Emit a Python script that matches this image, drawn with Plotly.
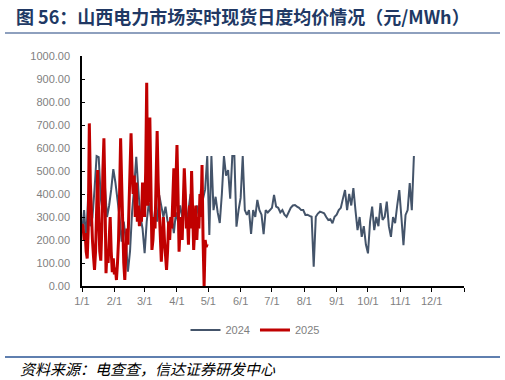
import pandas as pd
import plotly.graph_objects as go

# 2024 daily average price (every 2 days from 2024-01-01), 元/MWh
values_2024 = [
    230, 330, 200, 400, 260, 300, 420, 565, 560, 380, 320, 430, 300, 350, 420, 508,
    450, 374, 300, 193, 280, 200, 62, 150, 323, 430, 562, 417, 300, 250,
    143, 280, 361, 300, 250, 330, 280, 395, 350, 300, 345, 280, 250, 300, 230, 320,
    280, 350, 300, 380, 260, 330, 400, 300, 270, 350, 300, 420, 380, 420,
    565, 222, 565, 330, 388, 320, 274, 400, 565, 480, 504, 380, 565, 565, 258, 330,
    383, 565, 330, 309, 330, 226, 330, 300, 374, 330, 310, 225, 330, 320, 330,
    340, 396, 345, 340, 320, 330, 310, 301, 320, 340, 350, 352, 345, 340, 330,
    330, 309, 310, 305, 301, 84, 301, 315, 323, 320, 316, 300, 287, 290, 273,
    301, 310, 330, 340, 380, 417, 330, 400, 350, 426, 330, 243, 300, 214, 260,
    180, 142, 280, 345, 243, 300, 260, 360, 287, 300, 367, 260, 214, 300, 273,
    350, 417, 300, 178, 309, 330, 447, 330, 565,
]

# 2025 daily average price (daily from 2025-01-01 to 2025-04-30), 元/MWh
values_2025 = [
    270, 260, 200, 230, 150, 120, 250, 707, 450, 300,
    200, 130, 70, 150, 350, 504, 300, 150, 110, 250,
    500, 642, 400, 56, 150, 100, 200, 300, 150, 60,
    120, 50, 80, 26, 100, 200, 400, 642, 450, 250,
    100, 26, 150, 250, 180, 350, 450, 664, 491, 400,
    480, 300, 450, 280, 350, 260, 300, 280, 450, 300,
    500, 884, 350, 400, 732, 400, 157, 200, 300, 250,
    450, 674, 450, 300, 200, 106, 200, 300, 200, 150,
    70, 150, 280, 200, 300, 250, 400, 512, 300, 450,
    613, 400, 149, 250, 300, 200, 350, 512, 400, 250,
    300, 180, 350, 250, 500, 300, 157, 250, 350, 200,
    300, 250, 400, 300, 526, 200, 0, 200, 170, 183,
]

series_names = ["2024", "2025"]
series_colors = ["#44546A", "#C00000"]

dates_2024 = pd.date_range("2024-01-01", periods=len(values_2024), freq="2D")
dates_2025 = pd.date_range("2025-01-01", periods=len(values_2025), freq="D")
# plot both years on a common month/day axis
dates_2025_on_axis = [d.replace(year=2024) for d in dates_2025]

month_ticks = pd.date_range("2024-01-01", periods=12, freq="MS")
month_labels = [f"{d.month}/1" for d in month_ticks]
y_ticks = [0, 100, 200, 300, 400, 500, 600, 700, 800, 900, 1000]

fig = go.Figure()
fig.add_trace(go.Scatter(x=dates_2024, y=values_2024, mode="lines", name=series_names[0],
                         line=dict(color=series_colors[0], width=2)))
fig.add_trace(go.Scatter(x=dates_2025_on_axis, y=values_2025, mode="lines", name=series_names[1],
                         line=dict(color=series_colors[1], width=3)))

L, R, T, B = 82, 41, 56, 94
W, H = 505, 380
pw, ph = W - L - R, H - T - B

def px(x):
    return (x - L) / pw

def py(y):
    return (H - B - y) / ph

tick_font = dict(family="Liberation Sans, Arial, sans-serif", size=11, color="#7F7F7F")

fig.update_layout(
    width=W, height=H,
    margin=dict(l=L, r=R, t=T, b=B, pad=0),
    paper_bgcolor="white", plot_bgcolor="white",
    showlegend=True,
    legend=dict(orientation="h", x=px(255), xanchor="center", y=py(330), yanchor="middle",
                font=tick_font, bgcolor="rgba(0,0,0,0)", itemwidth=30, tracegroupgap=0),
    xaxis=dict(type="date", range=["2024-01-01", "2025-01-01"],
               tickvals=list(month_ticks), ticktext=month_labels,
               showgrid=False, zeroline=False,
               showline=True, linecolor="#000000", linewidth=1.5,
               ticks="outside", ticklen=4, tickcolor="#000000", tickwidth=1,
               tickfont=tick_font,
               minor=dict(ticks="outside", ticklen=4, tickcolor="#000000", dtick="M12",
                          tick0="2024-01-01", showgrid=False)),
    yaxis=dict(range=[0, 1000], tickvals=y_ticks, tickformat=".2f",
               showgrid=False, zeroline=False,
               showline=True, linecolor="#000000", linewidth=1.5,
               ticks="inside", ticklen=3, tickcolor="#000000", tickwidth=1,
               ticklabelstandoff=8,
               tickfont=tick_font),
)

# title, rules and source note
fig.add_annotation(xref="paper", yref="paper", x=px(14), y=py(16), xanchor="left", yanchor="middle",
                   text="<b>图 56：山西电力市场实时现货日度均价情况（元/MWh）</b>", showarrow=False,
                   font=dict(family="Noto Sans CJK SC, sans-serif", size=18, color="#203864"))
fig.add_shape(type="line", xref="paper", yref="paper", x0=px(5), x1=px(500), y0=py(33), y1=py(33),
              line=dict(color="#8EA0BE", width=2))
fig.add_shape(type="line", xref="paper", yref="paper", x0=px(5), x1=px(500), y0=py(357), y1=py(357),
              line=dict(color="#5F7FAF", width=2))
fig.add_annotation(xref="paper", yref="paper", x=px(18), y=py(368), xanchor="left", yanchor="middle",
                   text="<i>资料来源：电查查，信达证券研发中心</i>", showarrow=False,
                   font=dict(family="Noto Sans CJK SC, sans-serif", size=15, color="#000000"))

fig.write_html("out.html", config={"displayModeBar": False},
               post_script="document.body.style.margin='0px';")
